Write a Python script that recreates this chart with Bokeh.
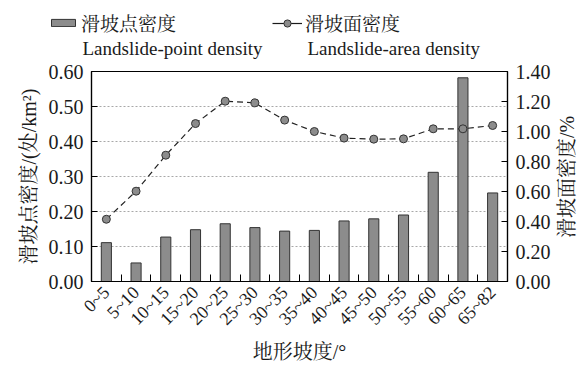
import math
from bokeh.plotting import figure
from bokeh.layouts import column, row
from bokeh.models import (Range1d, LinearAxis, FixedTicker, PrintfTickFormatter,
                          Legend, LegendItem, Label)
from bokeh.embed import file_html
from bokeh.resources import INLINE

# slope classes (degrees)
slope_classes = ["0~5", "5~10", "10~15", "15~20", "20~25", "25~30", "30~35",
                 "35~40", "40~45", "45~50", "50~55", "55~60", "60~65", "65~82"]
# landslide-point density (处/km²), left axis
point_density = [0.111, 0.053, 0.127, 0.148, 0.165, 0.154, 0.144,
                 0.146, 0.173, 0.179, 0.190, 0.312, 0.582, 0.253]
# landslide-area density (%), right axis
area_density = [0.415, 0.602, 0.842, 1.053, 1.202, 1.191, 1.076,
                1.000, 0.956, 0.949, 0.951, 1.018, 1.018, 1.040]
left_ticks = [0.0, 0.1, 0.2, 0.3, 0.4, 0.5, 0.6]
right_ticks = [0.0, 0.2, 0.4, 0.6, 0.8, 1.0, 1.2, 1.4]

SERIF = "'Liberation Serif', 'Noto Serif CJK SC', 'Noto Sans CJK SC'"
INK = "#1a1a1a"
BAR_FILL = "#8c8c8c"
EDGE = "#333333"

W, H = 582, 365
TOP_H = 62          # legend strip
SIDE_W = 29         # strip holding the right-hand axis title
MAIN_H = H - TOP_H
MAIN_W = W - SIDE_W
FRAME_TOP, FRAME_BOTTOM = 71, 83

xs = list(range(len(slope_classes)))
bounds = [i - 0.5 for i in range(len(slope_classes) + 1)]

# ---------------- legend strip ----------------
# The key strip carries the same series, scrolled out of view, so that its
# legend entries are drawn from real renderers.
key = figure(width=W, height=TOP_H, output_backend="svg", toolbar_location=None,
             x_range=Range1d(100, 101), y_range=Range1d(100, 101),
             min_border=0, outline_line_color=None)
key.frame_align = False
key.axis.visible = False
key.grid.visible = False
key_bar = key.vbar(x=xs, top=point_density, width=0.34, fill_color=BAR_FILL,
                   line_color=EDGE, line_width=1)
key_line = key.line(x=xs, y=area_density, line_color=INK, line_width=1.2)
key_dot = key.scatter(x=xs, y=area_density, size=7, fill_color=BAR_FILL,
                      line_color=EDGE, line_width=1)

common = dict(orientation="horizontal", label_text_font=SERIF,
              label_text_font_size="19px", label_text_color=INK,
              glyph_width=30, label_height=24, label_standoff=3,
              padding=0, margin=0, border_line_color=None,
              background_fill_alpha=0)
key.add_layout(Legend(items=[LegendItem(label="滑坡点密度", renderers=[key_bar])],
                      location=(48, TOP_H - 36), glyph_height=9, **common))
key.add_layout(Legend(items=[LegendItem(label="滑坡面密度",
                                        renderers=[key_line, key_dot])],
                      location=(272, TOP_H - 36), glyph_height=18, **common))
for xo, txt in [(82, "Landslide-point density"), (307, "Landslide-area density")]:
    key.add_layout(Label(x=xo, y=TOP_H - 48, x_units="screen", y_units="screen",
                         text=txt, text_font=SERIF, text_font_size="19px",
                         text_color=INK, text_baseline="middle"))

# ---------------- main chart ----------------
p = figure(width=MAIN_W, height=MAIN_H, output_backend="svg",
           toolbar_location=None,
           x_range=Range1d(-0.5, len(slope_classes) - 0.5),
           y_range=Range1d(0, 0.6),
           min_border_left=91, min_border_right=46,
           min_border_top=FRAME_TOP - TOP_H, min_border_bottom=FRAME_BOTTOM)
p.frame_align = False
p.renderers = []
p.below = []
p.left = []

p.outline_line_color = "black"
p.outline_line_width = 1.2
p.background_fill_color = "white"
p.border_fill_color = "white"

# bottom axis: labels at class centres, short inward ticks at class boundaries
xaxis = LinearAxis(ticker=FixedTicker(ticks=xs, minor_ticks=bounds),
                   axis_label="地形坡度/°")
xaxis.major_label_overrides = {i: s for i, s in enumerate(slope_classes)}
xaxis.major_label_orientation = math.pi / 4
xaxis.major_tick_in = 0
xaxis.major_tick_out = 0
xaxis.minor_tick_in = 7
xaxis.minor_tick_out = 0
xaxis.minor_tick_line_color = "black"
xaxis.major_label_standoff = 8
xaxis.axis_label_standoff = 2
p.add_layout(xaxis, "below")

yaxis = LinearAxis(ticker=FixedTicker(ticks=left_ticks),
                   formatter=PrintfTickFormatter(format="%.2f"),
                   axis_label="滑坡点密度/(处/km²)")
yaxis.major_tick_in = 6
yaxis.major_tick_out = 0
yaxis.minor_tick_line_color = None
yaxis.major_label_standoff = 8
yaxis.axis_label_standoff = 6
p.add_layout(yaxis, "left")

p.extra_y_ranges = {"area": Range1d(0, 1.4)}
raxis = LinearAxis(y_range_name="area", ticker=FixedTicker(ticks=right_ticks),
                   formatter=PrintfTickFormatter(format="%.2f"))
raxis.major_tick_in = 6
raxis.major_tick_out = 0
raxis.minor_tick_line_color = None
raxis.major_label_standoff = 8
p.add_layout(raxis, "right")

for ax in (xaxis, yaxis, raxis):
    ax.axis_line_color = "black"
    ax.axis_line_width = 1.2
    ax.major_tick_line_color = "black"
    ax.major_label_text_font = SERIF
    ax.major_label_text_font_size = "20px"
    ax.major_label_text_color = INK
    ax.axis_label_text_font = SERIF
    ax.axis_label_text_font_size = "20px"
    ax.axis_label_text_font_style = "normal"
    ax.axis_label_text_color = INK
xaxis.major_label_text_font_size = "18px"

p.xgrid.visible = False
p.ygrid.ticker = FixedTicker(ticks=left_ticks)
p.ygrid.grid_line_color = "#a8a8a8"
p.ygrid.grid_line_dash = "2 2"
p.ygrid.grid_line_width = 1

p.vbar(x=xs, top=point_density, width=0.34, bottom=0,
       fill_color=BAR_FILL, line_color=EDGE, line_width=1)
p.line(x=xs, y=area_density, y_range_name="area",
       line_color="#222222", line_width=1.2, line_dash="6 4")
p.scatter(x=xs, y=area_density, y_range_name="area", size=8,
          fill_color=BAR_FILL, line_color=EDGE, line_width=1)

# ---------------- right-hand axis title (reads bottom to top) ----------------
side = figure(width=SIDE_W, height=MAIN_H, output_backend="svg",
              toolbar_location=None, x_range=Range1d(0, 1), y_range=Range1d(0, 1),
              min_border=0, outline_line_color=None)
side.frame_align = False
side.axis.visible = False
side.grid.visible = False
frame_mid = (MAIN_H - (FRAME_TOP - TOP_H) + FRAME_BOTTOM) / 2
side.add_layout(Label(x=13, y=frame_mid, x_units="screen", y_units="screen",
                      text="滑坡面密度/%", angle=math.pi / 2,
                      text_font=SERIF, text_font_size="20px", text_color=INK,
                      text_align="center", text_baseline="middle"))

layout = column(key, row(p, side, spacing=0), spacing=0)
open("out.html", "w").write(file_html(layout, INLINE))
